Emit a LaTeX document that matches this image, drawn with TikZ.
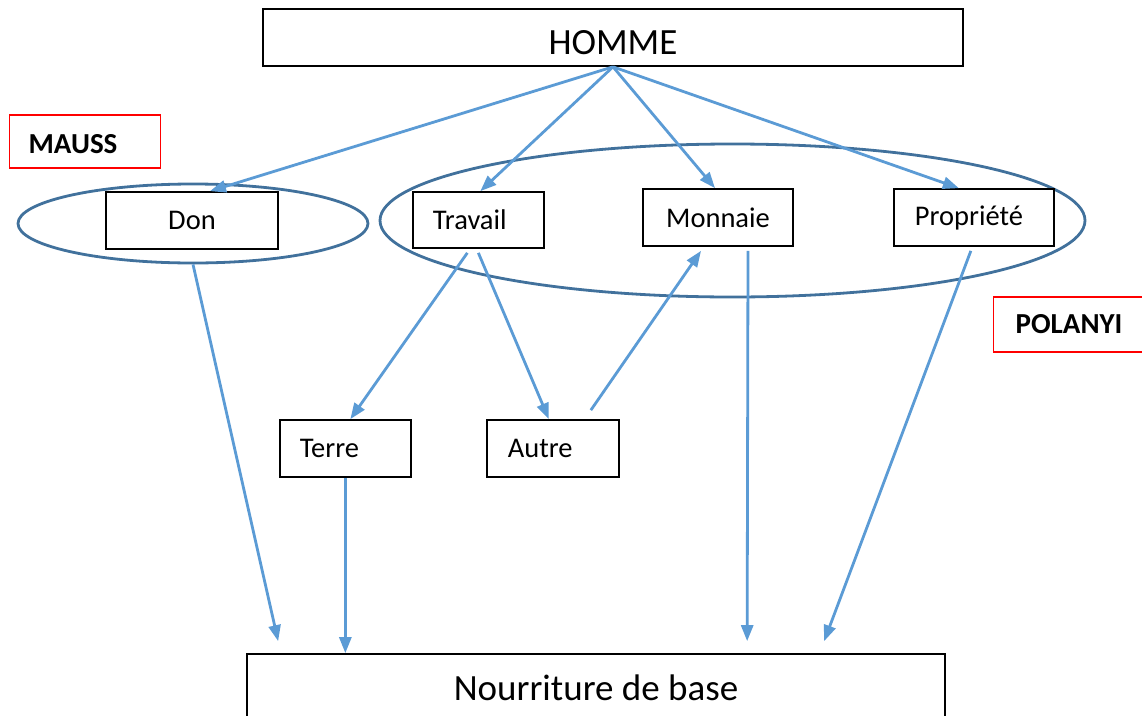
\documentclass[tikz,border=0pt]{standalone}
\usepackage{fontspec}
\setmainfont{Carlito}
\usepackage{tikz}
\usetikzlibrary{positioning, arrows.meta, shapes.geometric}
\definecolor{linkblue}{HTML}{5B9BD5}
\definecolor{ringblue}{HTML}{41719C}

\begin{document}
\begin{tikzpicture}[x=1pt, y=-1pt, >={Triangle[length=16pt, width=12pt]},
    box/.style={draw, line width=1.7pt, minimum height=57pt, inner sep=0pt, font=\fontsize{28.5}{34}\selectfont},
    lbox/.style={box, anchor=west, align=left},
    bigbox/.style={draw, line width=1.7pt, inner sep=0pt, font=\fontsize{37}{44}\selectfont},
    tag/.style={draw=red, line width=1.3pt, anchor=west, align=left, inner ysep=0pt, minimum height=53pt, font=\fontsize{29}{34}\selectfont\bfseries},
    ring/.style={ellipse, draw=ringblue, line width=2.8pt, inner sep=0pt},
    link/.style={->, linkblue, line width=2.8pt}]
    \useasboundingbox (0,0) rectangle (1142,715);

    \node[bigbox, minimum width=700pt, minimum height=57pt, text height=35pt] (homme) at (613,37.5)
        {HOMME};
    \node[tag, inner xsep=19pt, text width=113pt, text height=24pt] (mauss) at (9,141.5)
        {MAUSS};
    \node[tag, inner xsep=22pt, text width=126pt, minimum height=55pt] (polanyi) at (993,324.5)
        {POLANYI};

    \node[ring, minimum width=350pt, minimum height=79pt] (donring) at (193,223.5) {};
    \node[ring, minimum width=705pt, minimum height=153pt] (ring) at (732.5,220.5) {};

    \node[box, minimum width=172pt] (don) at (192,220.5)
        {Don};
    \node[lbox, inner xsep=20pt, text width=91pt, minimum height=56pt] (travail) at (412,220)
        {Travail};
    \node[box, minimum width=150pt] (monnaie) at (718,217.5)
        {Monnaie};
    \node[lbox, inner xsep=21pt, text width=118pt] (propriete) at (893,217.5)
        {Propriété};

    \node[lbox, inner xsep=20pt, text width=91pt] (terre) at (279,448.5)
        {Terre};
    \node[lbox, inner xsep=21pt, text width=90pt] (autre) at (486,448.5)
        {Autre};

    \node[bigbox, minimum width=698pt, minimum height=68pt] (nour) at (596,688)
        {Nourriture de base};

    \draw[link] (homme.south) -- ([xshift=18pt]don.north);
    \draw[link] (homme.south) -- ([xshift=2pt]travail.north);
    \draw[link] (homme.south) -- ([xshift=-3pt]monnaie.north);
    \draw[link] (homme.south) -- ([xshift=-15pt]propriete.north);

    \draw[link] ([xshift=-11pt, yshift=-4pt]travail.south) -- ([xshift=5pt]terre.north);
    \draw[link] ([yshift=-4pt]travail.south) -- ([xshift=-4pt]autre.north);
    \draw[link] ([xshift=38pt, yshift=9pt]autre.north) -- ([xshift=-17pt, yshift=-4pt]monnaie.south);

    \draw[link] (donring.south) -- ([xshift=32pt, yshift=12pt]nour.north west);
    \draw[link] (terre.south) -- (terre.south |- nour.north);
    \draw[link] ([xshift=30pt, yshift=-4pt]monnaie.south) -- ([xshift=501pt, yshift=12pt]nour.north west);
    \draw[link] ([xshift=-3pt, yshift=-4pt]propriete.south) -- ([xshift=578pt, yshift=12pt]nour.north west);

\end{tikzpicture}
\end{document}
